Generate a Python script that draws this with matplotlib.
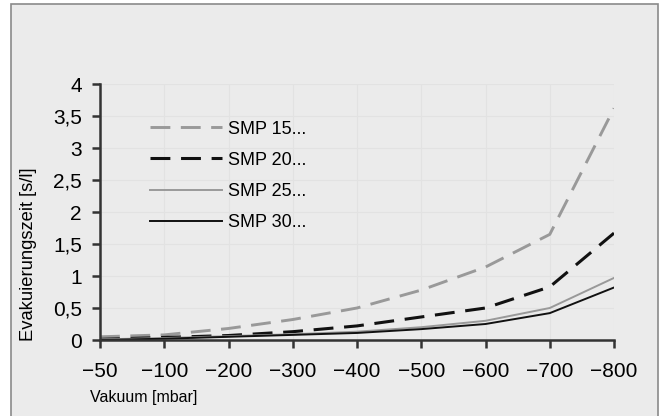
import matplotlib.pyplot as plt
from matplotlib.patches import Rectangle
from matplotlib.transforms import ScaledTranslation

vakuum = ['-50', '-100', '-200', '-300', '-400', '-500', '-600', '-700', '-800']
smp15 = [0.05, 0.08, 0.18, 0.32, 0.5, 0.78, 1.14, 1.65, 3.62]
smp20 = [0.01, 0.04, 0.07, 0.13, 0.22, 0.36, 0.5, 0.83, 1.67]
smp25 = [0.01, 0.03, 0.06, 0.09, 0.13, 0.2, 0.3, 0.5, 0.97]
smp30 = [0.0, 0.02, 0.05, 0.08, 0.11, 0.17, 0.25, 0.42, 0.82]
names = ['SMP 15...', 'SMP 20...', 'SMP 25...', 'SMP 30...']
yticks = [0, 0.5, 1, 1.5, 2, 2.5, 3, 3.5, 4]


def main():
    plt.rcParams['font.family'] = ['Liberation Sans', 'DejaVu Sans']
    narrow = ['Liberation Sans Narrow', 'Liberation Sans']
    fig = plt.figure(figsize=(6.63, 4.16), dpi=100)
    fig.patch.set_facecolor('white')
    # grauer Rahmen
    fig.patches.append(Rectangle((11 / 663, -0.05), 647 / 663, 1 - 3.5 / 416 + 0.05,
                                 transform=fig.transFigure, facecolor='#ebebeb',
                                 edgecolor='#8a8a8a', lw=1.2, zorder=-10))
    ax = fig.add_axes([100 / 663, 1 - 340 / 416, 514 / 663, 256 / 416])
    ax.set_facecolor('none')

    x = list(range(len(vakuum)))
    ax.plot(x, smp15, color='#999999', lw=2.1, dashes=(6.8, 3.6), label=names[0])
    ax.plot(x, smp20, color='#111111', lw=2.2, dashes=(6.5, 3.5), label=names[1])
    ax.plot(x, smp25, color='#999999', lw=1.4, label=names[2])
    ax.plot(x, smp30, color='#111111', lw=1.4, label=names[3])

    ax.set_xlim(0, len(vakuum) - 1)
    ax.set_ylim(0, 4)
    ax.set_xticks(x)
    ax.set_xticklabels([v.replace('-', '\u2212') for v in vakuum], fontsize=15)
    # Ziffern mittig unter dem Tick, Minus haengt links
    shift = ScaledTranslation(-7 / 100, 0, fig.dpi_scale_trans)
    for lab in ax.get_xticklabels():
        lab.set_transform(lab.get_transform() + shift)
    ax.set_yticks(yticks)
    ax.set_yticklabels([('%g' % t).replace('.', ',') for t in yticks], fontsize=15)
    ax.grid(True, color='#e2e2e2', lw=0.8)
    ax.set_axisbelow(True)
    for s in ['top', 'right']:
        ax.spines[s].set_visible(False)
    for s in ['left', 'bottom']:
        ax.spines[s].set_color('#333333')
        ax.spines[s].set_linewidth(1.8)
    ax.tick_params(direction='out', length=6, width=1.8, color='#333333')
    ax.tick_params(axis='x', pad=10)
    ax.tick_params(axis='y', pad=7)

    ax.set_ylabel('Evakuierungszeit [s/l]', fontsize=13.2, family=narrow)
    ax.yaxis.set_label_coords(-0.1226, 0.336)
    ax.set_xlabel('Vakuum [mbar]', fontsize=11.5, family=narrow, loc='left')
    ax.xaxis.set_label_coords(-0.0195, -0.195)

    ax.legend(loc='upper left', bbox_to_anchor=(0.066, 0.92), frameon=False,
              fontsize=13, handlelength=4.0, handletextpad=0.33, labelspacing=0.78)

    fig.savefig('out.png')


if __name__ == '__main__':
    main()
